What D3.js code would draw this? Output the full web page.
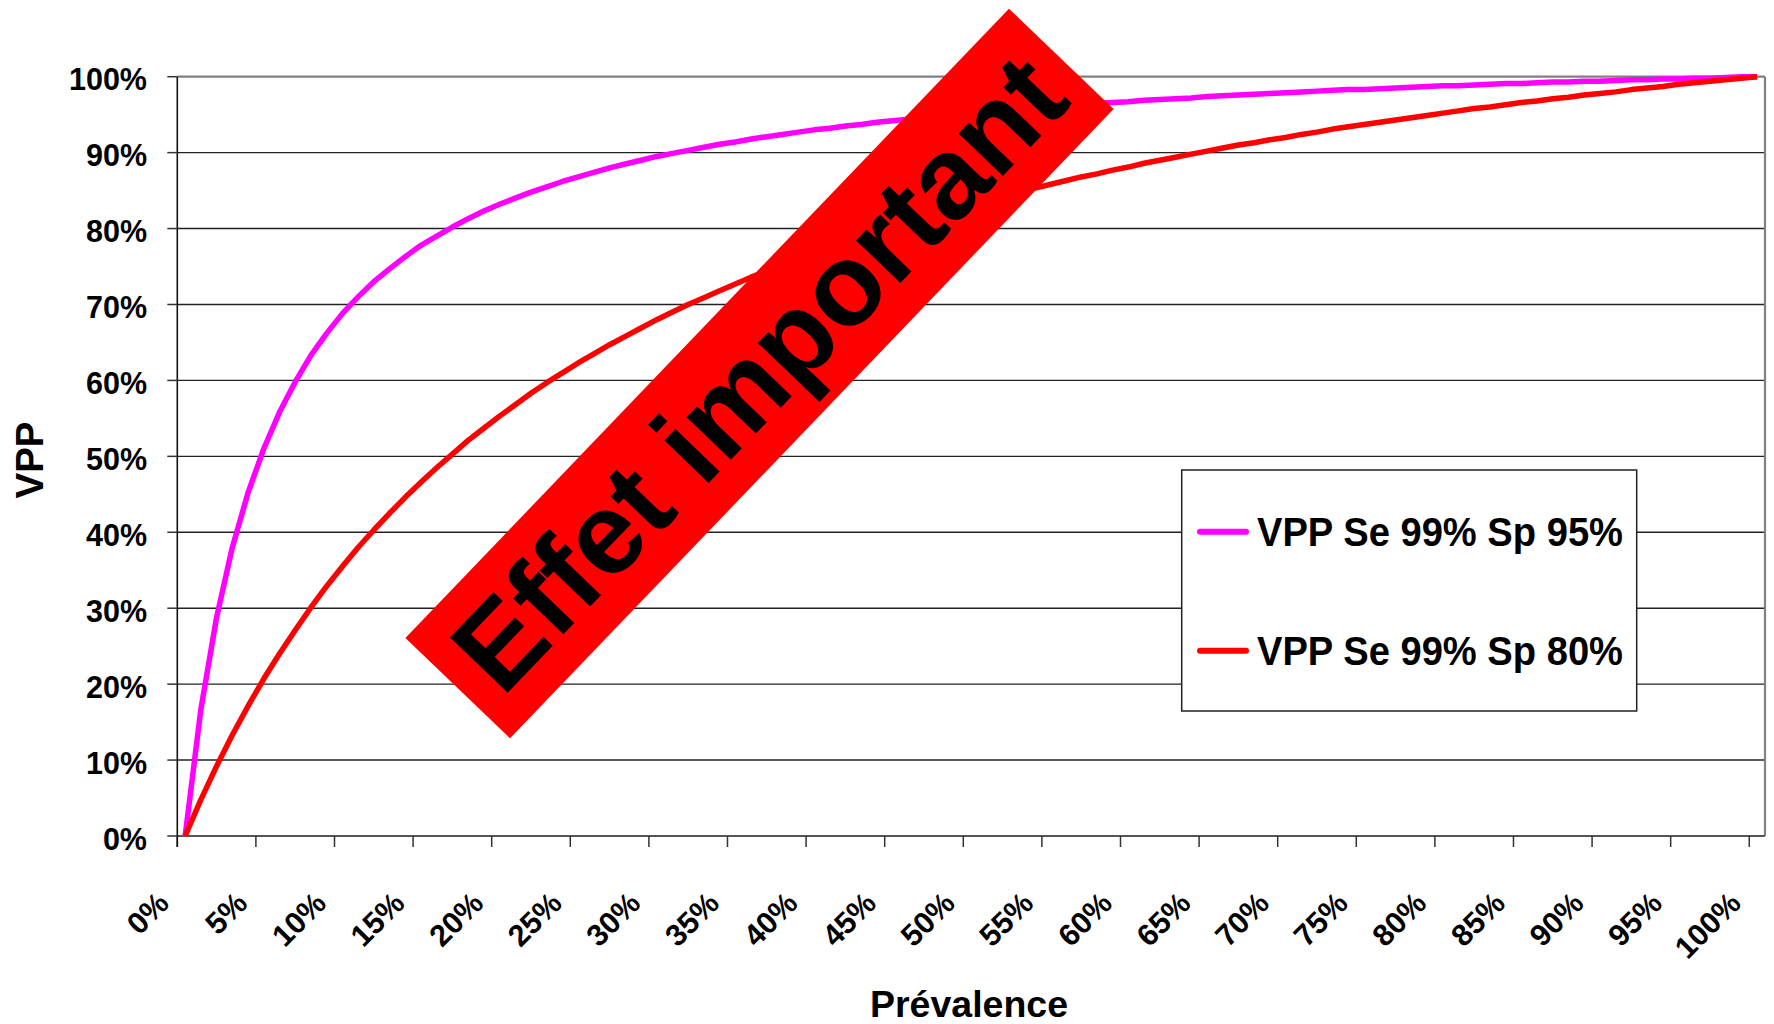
<!DOCTYPE html>
<html>
<head>
<meta charset="utf-8">
<script src="https://cdn.jsdelivr.net/npm/d3@7/dist/d3.min.js"></script>
<style>
  html, body { margin: 0; padding: 0; background: #fff; }
  svg { display: block; }
  text { font-family: "Liberation Sans", Arial, sans-serif; font-weight: bold; fill: #000; }
</style>
</head>
<body>
<div id="chart"></div>
<script>
// ---------------- DATA ----------------
const categories = d3.range(0, 101).map(k => k + "%");   // prévalence 0% .. 100%
const xTickLabels = ["0%","5%","10%","15%","20%","25%","30%","35%","40%","45%","50%",
                     "55%","60%","65%","70%","75%","80%","85%","90%","95%","100%"];
const yTickValues = [0,0.1,0.2,0.3,0.4,0.5,0.6,0.7,0.8,0.9,1];
const yTickLabels = ["0%","10%","20%","30%","40%","50%","60%","70%","80%","90%","100%"];

const seriesNames = ["VPP Se 99% Sp 95%", "VPP Se 99% Sp 80%"];
const seriesColors = ["#FF00FF", "#FF0000"];

// VPP Se 99% Sp 95% (one per category)
const vppSp95 = [0.000,0.167,0.288,0.380,0.452,0.510,0.558,0.598,0.633,0.662,
  0.688,0.710,0.730,0.747,0.763,0.778,0.790,0.802,0.813,0.823,
  0.832,0.840,0.848,0.855,0.862,0.868,0.874,0.880,0.885,0.890,
  0.895,0.899,0.903,0.907,0.911,0.914,0.918,0.921,0.924,0.927,
  0.930,0.932,0.935,0.937,0.940,0.942,0.944,0.946,0.948,0.950,
  0.952,0.954,0.955,0.957,0.959,0.960,0.962,0.963,0.965,0.966,
  0.967,0.969,0.970,0.971,0.972,0.974,0.975,0.976,0.977,0.978,
  0.979,0.980,0.981,0.982,0.983,0.983,0.984,0.985,0.986,0.987,
  0.988,0.988,0.989,0.990,0.991,0.991,0.992,0.993,0.993,0.994,
  0.994,0.995,0.996,0.996,0.997,0.997,0.998,0.998,0.999,1.000,1.000];

// VPP Se 99% Sp 80%
const vppSp80 = [0.000,0.048,0.092,0.133,0.171,0.207,0.240,0.271,0.301,0.329,
  0.355,0.380,0.403,0.425,0.446,0.466,0.485,0.503,0.521,0.537,
  0.553,0.568,0.583,0.597,0.610,0.623,0.635,0.647,0.658,0.669,
  0.680,0.690,0.700,0.709,0.718,0.727,0.736,0.744,0.752,0.760,
  0.767,0.775,0.782,0.789,0.796,0.802,0.808,0.815,0.820,0.826,
  0.832,0.838,0.843,0.848,0.853,0.858,0.863,0.868,0.872,0.877,
  0.881,0.886,0.890,0.894,0.898,0.902,0.906,0.910,0.913,0.917,
  0.920,0.924,0.927,0.931,0.934,0.937,0.940,0.943,0.946,0.949,
  0.952,0.955,0.958,0.960,0.963,0.966,0.968,0.971,0.973,0.976,
  0.978,0.980,0.983,0.985,0.987,0.990,0.992,0.994,0.996,0.998,1.000];

const seriesValues = [vppSp95, vppSp80];

const annotationText = "Effet important";
const xTitle = "Prévalence";
const yTitle = "VPP";

// ---------------- LAYOUT ----------------
const W = 1774, H = 1024;
const plotLeft = 177.3, plotRight = 1765, plotTop = 76.7, plotBottom = 836;

const svg = d3.select("#chart").append("svg")
  .attr("width", W).attr("height", H).attr("viewBox", `0 0 ${W} ${H}`);

const x = d3.scaleBand().domain(categories).range([plotLeft, plotRight]).padding(0);
const bw = x.bandwidth();
const y = d3.scaleLinear().domain([0, 1]).range([plotBottom, plotTop]);

// gridlines
svg.append("g").selectAll("line")
  .data(yTickValues.filter(v => v > 0 && v < 1))
  .join("line")
  .attr("x1", plotLeft).attr("x2", plotRight)
  .attr("y1", d => y(d)).attr("y2", d => y(d))
  .attr("stroke", "#222").attr("stroke-width", 1.4);

// plot border (top + right)
svg.append("line").attr("x1", plotLeft).attr("x2", plotRight)
  .attr("y1", y(1)).attr("y2", y(1)).attr("stroke", "#808080").attr("stroke-width", 2.2);
svg.append("line").attr("x1", plotRight).attr("x2", plotRight)
  .attr("y1", y(1)).attr("y2", y(0)).attr("stroke", "#808080").attr("stroke-width", 2.2);

// x axis
svg.append("line").attr("x1", plotLeft).attr("x2", plotRight)
  .attr("y1", y(0)).attr("y2", y(0)).attr("stroke", "#555").attr("stroke-width", 2);
const xTickCats = categories.filter((c, i) => i % 5 === 0);
svg.append("g").selectAll("line").data(xTickCats).join("line")
  .attr("x1", d => x(d)).attr("x2", d => x(d))
  .attr("y1", y(0)).attr("y2", y(0) + 11)
  .attr("stroke", "#333").attr("stroke-width", 1.5);
svg.append("g").selectAll("text").data(xTickCats).join("text")
  .attr("transform", (d) => `translate(${x(d) + bw / 2 - 14.5},${y(0) + 69}) rotate(-45)`)
  .attr("text-anchor", "end")
  .attr("font-size", 30.5)
  .text((d, i) => xTickLabels[i]);

// y axis
svg.append("line").attr("x1", plotLeft).attr("x2", plotLeft)
  .attr("y1", y(1)).attr("y2", y(0) + 11).attr("stroke", "#111").attr("stroke-width", 1.6);
svg.append("g").selectAll("line").data(yTickValues).join("line")
  .attr("x1", plotLeft - 10).attr("x2", plotLeft)
  .attr("y1", d => y(d)).attr("y2", d => y(d))
  .attr("stroke", "#333").attr("stroke-width", 1.5);
svg.append("g").selectAll("text").data(yTickValues).join("text")
  .attr("x", 147).attr("y", d => y(d) + 13.5)
  .attr("text-anchor", "end")
  .attr("font-size", 30.5)
  .text((d, i) => yTickLabels[i]);

// series lines
const line = d3.line()
  .x((d, i) => x(categories[i]) + bw / 2)
  .y(d => y(d));
svg.append("g").selectAll("path").data(seriesValues).join("path")
  .attr("d", d => line(d))
  .attr("fill", "none")
  .attr("stroke", (d, i) => seriesColors[i])
  .attr("stroke-width", 5.5)
  .attr("stroke-linejoin", "round");

// legend
const lg = svg.append("g");
lg.append("rect").attr("x", 1181.7).attr("y", 470).attr("width", 455).attr("height", 241)
  .attr("fill", "#fff").attr("stroke", "#222").attr("stroke-width", 1.5);
const legendRows = [531.7, 650.7];
lg.selectAll("line.sw").data(seriesNames).join("line")
  .attr("x1", 1200).attr("x2", 1246)
  .attr("y1", (d, i) => legendRows[i]).attr("y2", (d, i) => legendRows[i])
  .attr("stroke", (d, i) => seriesColors[i]).attr("stroke-width", 6)
  .attr("stroke-linecap", "round");
lg.selectAll("text").data(seriesNames).join("text")
  .attr("x", 1257).attr("y", (d, i) => legendRows[i] + 14.5)
  .attr("font-size", 40)
  .attr("textLength", 366).attr("lengthAdjust", "spacingAndGlyphs")
  .text(d => d);

// axis titles
svg.append("text").attr("x", 969).attr("y", 1016.5).attr("text-anchor", "middle")
  .attr("font-size", 37.5).text(xTitle);
svg.append("text").attr("transform", "translate(43.3,460) rotate(-90)")
  .attr("text-anchor", "middle").attr("font-size", 38.5).text(yTitle);

// annotation banner
const banner = svg.append("g").attr("transform", "translate(759.5,373.5) rotate(-46.2)");
banner.append("rect").attr("x", -436).attr("y", -72.5).attr("width", 872).attr("height", 145)
  .attr("fill", "#FF0000");
banner.append("text").attr("x", 0).attr("y", 39).attr("text-anchor", "middle")
  .attr("font-size", 116).text(annotationText);
</script>
</body>
</html>
